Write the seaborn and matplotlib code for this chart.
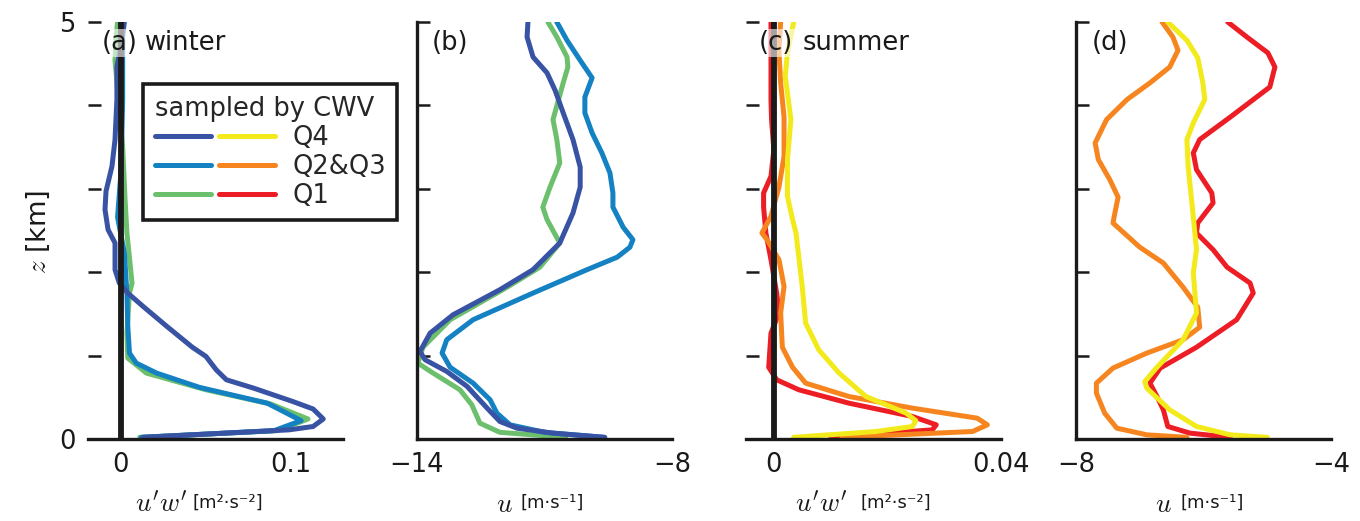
import numpy as np
import pandas as pd
import matplotlib
matplotlib.use("Agg")
import matplotlib.pyplot as plt
import seaborn as sns
from matplotlib.lines import Line2D
from matplotlib.legend_handler import HandlerTuple

# ---------------- data ----------------
# (a) winter u'w' [m2 s-2]
z_aq4 = [0.02, 0.11, 0.15, 0.24, 0.36, 0.45, 0.61, 0.71, 0.83, 0.99, 1.10, 1.35, 1.59, 1.75, 1.87,
         2.03, 2.35, 2.51, 2.75, 2.97, 3.27, 3.59, 4.07, 4.46, 4.78, 5.0]
x_aq4 = [0.013, 0.099, 0.113, 0.119, 0.113, 0.101, 0.078, 0.062, 0.056, 0.050, 0.042, 0.027, 0.013,
         0.004, -0.001, -0.0035, -0.0035, -0.0076, -0.0094, -0.0088, -0.0053, -0.0035, -0.0024,
         -0.0024, 0.0006, 0.002]
z_aq23 = [0.02, 0.10, 0.22, 0.43, 0.62, 0.79, 0.91, 1.03, 1.35, 1.75, 2.23, 2.66, 3.2, 4.07, 5.0]
x_aq23 = [0.012, 0.090, 0.106, 0.086, 0.046, 0.021, 0.009, 0.005, 0.004, 0.0035, 0.002, -0.002,
          0.0, 0.001, 0.001]
z_aq1 = [0.02, 0.10, 0.24, 0.42, 0.59, 0.79, 0.97, 1.27, 1.75, 1.87, 2.47, 2.87, 3.5, 4.54, 4.8, 5.0]
x_aq1 = [0.011, 0.092, 0.110, 0.088, 0.050, 0.015, 0.004, 0.0035, 0.005, 0.0065, 0.0035, 0.0024,
         0.001, -0.0035, -0.003, -0.002]

# (b) winter u [m s-1]
z_bq4 = [0.02, 0.07, 0.13, 0.21, 0.37, 0.63, 0.81, 0.95, 1.05, 1.27, 1.49, 1.79, 2.03, 2.35, 2.71,
         3.02, 3.26, 3.59, 3.91, 4.18, 4.39, 4.58, 4.82, 5.0]
x_bq4 = [-9.58, -10.80, -11.65, -12.05, -12.35, -12.82, -13.30, -13.81, -13.93, -13.69, -13.15,
         -12.05, -11.27, -10.64, -10.33, -10.16, -10.16, -10.33, -10.56, -10.75, -10.94, -11.27,
         -11.41, -11.39]
z_bq23 = [0.02, 0.08, 0.17, 0.31, 0.47, 0.67, 0.86, 1.03, 1.19, 1.43, 1.75, 2.03, 2.18, 2.30, 2.39,
          2.54, 2.78, 2.95, 3.19, 3.43, 3.67, 3.91, 4.10, 4.33, 4.54, 4.78, 5.0]
x_bq23 = [-9.6, -11.0, -11.81, -12.12, -12.28, -12.68, -13.22, -13.41, -13.30, -12.68, -11.27,
          -10.0, -9.29, -8.99, -8.92, -9.15, -9.39, -9.39, -9.46, -9.65, -9.88, -10.05, -10.05,
          -9.88, -10.16, -10.47, -10.71]
z_bq1 = [0.02, 0.08, 0.19, 0.41, 0.59, 0.79, 0.91, 1.10, 1.43, 1.82, 2.06, 2.35, 2.63, 2.78, 3.02,
         3.31, 3.59, 3.83, 4.27, 4.46, 4.58, 4.82, 5.0]
x_bq1 = [-10.5, -12.05, -12.52, -12.71, -12.99, -13.62, -13.98, -13.86, -13.22, -11.88, -11.11,
         -10.64, -10.94, -11.04, -10.87, -10.64, -10.71, -10.80, -10.56, -10.45, -10.47, -10.71,
         -10.92]

# (c) summer u'w' [m2 s-2]
z_cq4 = [0.02, 0.09, 0.15, 0.22, 0.31, 0.51, 0.79, 1.07, 1.39, 1.83, 2.47, 2.63, 2.91, 3.35, 3.83,
         4.15, 4.35, 4.63, 5.0]
x_cq4 = [0.0035, 0.018, 0.0244, 0.025, 0.0233, 0.0162, 0.0115, 0.0079, 0.0056, 0.0050, 0.0039,
         0.0033, 0.0024, 0.0024, 0.003, 0.0024, 0.002, 0.0024, 0.0035]
z_cq23 = [0.02, 0.09, 0.17, 0.25, 0.37, 0.51, 0.67, 0.86, 1.10, 1.51, 1.83, 2.15, 2.39, 2.47, 2.67,
          3.02, 3.39, 3.86, 4.27, 4.66, 5.0]
x_cq23 = [0.012, 0.035, 0.0376, 0.0358, 0.0244, 0.0132, 0.0056, 0.0033, 0.0015, 0.0012, 0.0018,
          0.0009, -0.0012, -0.0021, -0.0005, 0.0009, 0.0018, 0.0018, 0.0012, 0.0009, 0.0012]
z_cq1 = [0.02, 0.11, 0.17, 0.27, 0.43, 0.59, 0.71, 0.86, 1.27, 1.51, 1.75, 2.15, 2.47, 2.78, 2.95,
         3.15, 3.47, 3.83, 4.07, 4.46, 5.0]
x_cq1 = [0.010, 0.0279, 0.0286, 0.0244, 0.0132, 0.0044, 0.0005, -0.0009, -0.0005, 0.0009, 0.0005,
         -0.0005, -0.0014, -0.0018, -0.0018, -0.0005, 0.0, -0.0004, -0.0005, -0.0005, -0.0005]

# (d) summer u [m s-1]
z_dq4 = [0.02, 0.05, 0.15, 0.35, 0.61, 0.69, 0.86, 1.19, 1.51, 1.99, 2.27, 2.66, 3.26, 3.59, 3.79,
         4.07, 4.27, 4.57, 4.78, 5.0]
x_dq4 = [-5.0, -5.58, -6.11, -6.53, -6.89, -6.92, -6.73, -6.32, -6.11, -6.16, -6.11, -6.16, -6.24,
         -6.26, -6.16, -5.98, -6.01, -6.09, -6.26, -6.56]
z_dq23 = [0.02, 0.05, 0.13, 0.31, 0.55, 0.67, 0.85, 1.03, 1.19, 1.34, 1.58, 1.82, 2.11, 2.30, 2.59,
          2.71, 2.90, 3.11, 3.35, 3.55, 3.83, 4.07, 4.27, 4.46, 4.66, 4.82, 5.0]
x_dq23 = [-6.26, -6.89, -7.36, -7.55, -7.68, -7.68, -7.42, -6.89, -6.32, -6.06, -6.09, -6.32, -6.63,
          -7.0, -7.42, -7.39, -7.34, -7.47, -7.65, -7.70, -7.52, -7.20, -6.84, -6.53, -6.40, -6.48,
          -6.65]
z_dq1 = [0.02, 0.07, 0.15, 0.35, 0.51, 0.67, 0.85, 1.10, 1.43, 1.75, 1.87, 2.06, 2.27, 2.47, 2.59,
         2.83, 2.95, 3.23, 3.43, 3.59, 3.86, 4.22, 4.46, 4.63, 4.82, 5.0]
x_dq1 = [-5.58, -6.21, -6.56, -6.63, -6.73, -6.84, -6.68, -6.11, -5.48, -5.22, -5.27, -5.63, -5.85,
         -6.11, -6.09, -5.85, -5.87, -6.11, -6.16, -6.06, -5.58, -4.96, -4.88, -4.99, -5.32, -5.62]

group_labels = ["Q4", "Q2&Q3", "Q1"]
legend_title = "sampled by CWV"
winter_colors = ["#3953a4", "#1481c3", "#6cbf6c"]
summer_colors = ["#f2ea1b", "#f6851f", "#ec1d25"]

panel_tags = ["(a)", "(b)", "(c)", "(d)"]
panel_seasons = ["winter", "", "summer", ""]
xlims = [(-0.0194, 0.1306), (-14, -8), (-0.0049, 0.04), (-8, -4)]
xticks = [[0, 0.1], [-14, -8], [0, 0.04], [-8, -4]]
xticklabels = [["0", "0.1"], ["\u221214", "\u22128"], ["0", "0.04"], ["\u22128", "\u22124"]]
yticks = [0, 1, 2, 3, 4, 5]
xlabel_math = [r"$u'w'$", r"$u$", r"$u'w'$", r"$u$"]
xlabel_unit = ["[m\u00b2\u00b7s\u207b\u00b2]", "[m\u00b7s\u207b\u00b9]",
               "[m\u00b2\u00b7s\u207b\u00b2]", "[m\u00b7s\u207b\u00b9]"]

# ---------------- style ----------------
sns.set_theme(style="white")
plt.rcParams["font.family"] = ["DejaVu Sans"]
plt.rcParams["mathtext.fontset"] = "cm"
plt.rcParams["axes.linewidth"] = 2.2

FS = 18.5
LW = 3.6
INK = "#1a1a1a"

W, H = 1360, 521
fig = plt.figure(figsize=(W / 100, H / 100), dpi=100)
lefts_px = [88, 417, 746, 1076]
axes = [fig.add_axes([l / W, 1 - 439 / H, 255 / W, 417 / H]) for l in lefts_px]

curves = [
    [(x_aq4, z_aq4), (x_aq23, z_aq23), (x_aq1, z_aq1)],
    [(x_bq4, z_bq4), (x_bq23, z_bq23), (x_bq1, z_bq1)],
    [(x_cq4, z_cq4), (x_cq23, z_cq23), (x_cq1, z_cq1)],
    [(x_dq4, z_dq4), (x_dq23, z_dq23), (x_dq1, z_dq1)],
]
palettes = [winter_colors, winter_colors, summer_colors, summer_colors]

for i, ax in enumerate(axes):
    # draw order: Q1 first, then Q2&Q3, then Q4 on top
    for k in [2, 1, 0]:
        xs, zs = curves[i][k]
        df = pd.DataFrame({"x": xs, "z": zs})
        sns.lineplot(data=df, x="x", y="z", sort=False, estimator=None,
                     color=palettes[i][k], linewidth=LW, ax=ax, legend=False)
    if i in (0, 2):
        ax.axvline(0, color=INK, lw=4.2, zorder=5)
    ax.set_xlim(*xlims[i])
    ax.set_ylim(0, 5)
    ax.set_xticks(xticks[i])
    ax.set_xticklabels(xticklabels[i])
    ax.set_yticks(yticks)
    if i == 0:
        ax.set_yticklabels(["0", "", "", "", "", "5"])
    else:
        ax.set_yticklabels([])
    ax.set_xlabel("")
    ax.set_ylabel("")
    for s in ["top", "right"]:
        ax.spines[s].set_visible(False)
    ax.spines["left"].set_visible(i in (1, 3))
    for s in ["left", "bottom"]:
        ax.spines[s].set_color(INK)
        ax.spines[s].set_linewidth(2.4)
    ax.tick_params(axis="both", direction="in", length=9.5, width=1.8, color=INK,
                   labelsize=FS, labelcolor=INK)
    ax.tick_params(axis="x", pad=9)
    ax.tick_params(axis="y", pad=9, left=True)
    ax.set_facecolor("none")

    # panel labels
    tag_x = [0.055, 0.059, 0.051, 0.063][i]
    ax.text(tag_x, 0.95, panel_tags[i], transform=ax.transAxes, fontsize=FS, va="center",
            ha="left", color=INK, zorder=10,
            bbox=dict(boxstyle="square,pad=0.05", fc="white", ec="none", alpha=0.6))
    if panel_seasons[i]:
        sx = [(145 - 88) / 255, 0, (803 - 746) / 255, 0][i]
        ax.text(sx, 0.95, panel_seasons[i], transform=ax.transAxes, fontsize=FS,
                va="center", ha="left", color=INK, zorder=10)

# x labels (math part + smaller units)
math_right = [187, 513, 847, 1172]
unit_left = [193, 520, 860, 1180]
for i in range(4):
    fig.text(math_right[i] / W, 1 - 505 / H, xlabel_math[i], fontsize=19.5, ha="right",
             va="center", color=INK)
    fig.text(unit_left[i] / W, 1 - 503 / H, xlabel_unit[i], fontsize=13, ha="left",
             va="center", color=INK)

# y label
fig.text(38 / W, 1 - 232 / H, r"$z$ [km]", rotation=90, fontsize=19.5, ha="center",
         va="center", color=INK)

# legend with paired handles
handles = [(Line2D([], [], color=winter_colors[k], lw=LW),
            Line2D([], [], color=summer_colors[k], lw=LW)) for k in range(3)]
leg = axes[0].legend(handles, group_labels, title=legend_title,
                     handler_map={tuple: HandlerTuple(ndivide=None, pad=0.32)},
                     loc="upper left", bbox_to_anchor=((143 - 88) / 255, (439 - 84) / 417),
                     borderaxespad=0, frameon=True, fancybox=False, framealpha=1,
                     edgecolor=INK, fontsize=FS, title_fontsize=FS,
                     handlelength=4.7, handletextpad=0.65, labelspacing=0.12,
                     borderpad=0.45, alignment="left")
leg.get_frame().set_linewidth(2.6)
leg.set_zorder(20)

fig.savefig("out.png", dpi=100)
